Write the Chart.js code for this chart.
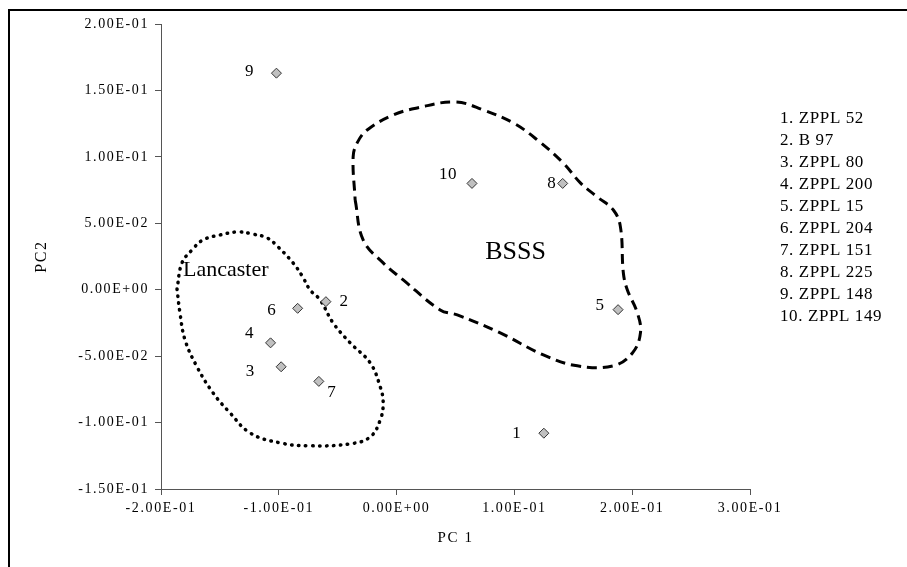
<!DOCTYPE html>
<html>
<head>
<meta charset="utf-8">
<title>PCA PC1 x PC2</title>
<script src="https://cdn.jsdelivr.net/npm/chart.js@4.4.1/dist/chart.umd.min.js"></script>
<style>
  html, body { margin: 0; padding: 0; background: #fff; overflow: hidden; }
  #wrap { position: relative; width: 907px; height: 567px; }
  #frame {
    position: absolute; left: 8px; top: 9px; right: -10px; bottom: -10px;
    border-left: 2px solid #000; border-top: 2px solid #000; pointer-events: none;
  }
</style>
</head>
<body>
<div id="wrap">
  <canvas id="pcaChart" width="907" height="567"></canvas>
  <div id="frame"></div>
</div>
<script>
// ── Dados: linhagens (PC1, PC2) ───────────────────────────────────────────────
const linhagens = ["1", "2", "3", "4", "5", "6", "7", "8", "9", "10"];
const nomes = ["ZPPL 52", "B 97", "ZPPL 80", "ZPPL 200", "ZPPL 15",
               "ZPPL 204", "ZPPL 151", "ZPPL 225", "ZPPL 148", "ZPPL 149"];
const pc1 = [0.125, -0.060, -0.098, -0.107, 0.188, -0.084, -0.066, 0.141, -0.102, 0.064];
const pc2 = [-0.108, -0.009, -0.058, -0.040, -0.015, -0.014, -0.069, 0.080, 0.163, 0.080];

// contorno do grupo Lancaster (pontilhado)
const lancX = [-0.1864, -0.1839, -0.1796, -0.1694, -0.1558, -0.1414, -0.1244, -0.0989,
               -0.0734, -0.0394, -0.0224, -0.0139, -0.0114, -0.0139, -0.0224, -0.0394,
               -0.0539, -0.0649, -0.0734, -0.0802, -0.0879, -0.1006, -0.1099, -0.1218,
               -0.1346, -0.1499, -0.1643, -0.1737, -0.1822, -0.1864];
const lancY = [0.0006, -0.0175, -0.0378, -0.0581, -0.0777, -0.0927, -0.1078, -0.1153,
               -0.1175, -0.1160, -0.1108, -0.0980, -0.0852, -0.0731, -0.0551, -0.0400,
               -0.0250, -0.0077, -0.0002, 0.0104, 0.0202, 0.0322, 0.0390, 0.0418,
               0.0435, 0.0412, 0.0375, 0.0299, 0.0202, 0.0006];

// contorno do grupo BSSS (tracejado)
const bsssX = [-0.0352, -0.0284, -0.0114, 0.0056, 0.0370, 0.0515, 0.0880, 0.1246,
               0.1534, 0.1840, 0.2002, 0.2070, 0.2044, 0.1959, 0.1925, 0.1900,
               0.1840, 0.1704, 0.1560, 0.1415, 0.1195, 0.0991, 0.0736, 0.0498,
               0.0175, -0.0029, -0.0250, -0.0335, -0.0369, -0.0352];
const bsssY = [0.0676, 0.0375, 0.0202, 0.0074, -0.0152, -0.0190, -0.0325, -0.0491,
               -0.0573, -0.0573, -0.0476, -0.0325, -0.0175, -0.0002, 0.0126, 0.0473,
               0.0600, 0.0698, 0.0804, 0.0954, 0.1127, 0.1255, 0.1353, 0.1413,
               0.1368, 0.1315, 0.1202, 0.1105, 0.0999, 0.0676];

// nomes dos grupos e onde ficam (unidades dos eixos)
const grupos = ["Lancaster", "BSSS"];
const grupoX = [-0.145, 0.101];
const grupoY = [0.015, 0.028];

// ── Estilo dos rótulos dos pontos (deslocamento em px) ────────────────────────
const rotuloDx = [-27, 18, -31, -21, -18, -26, 13, -11, -27, -24];
const rotuloDy = [0, 0, 5, -9, -4, 2, 11, 0, -2, -9];

const serif = "'Liberation Serif', 'Times New Roman', serif";

function sci(v) {
  if (Math.abs(v) < 1e-12) v = 0;
  const [m, e] = v.toExponential(2).split("e");
  const n = parseInt(e, 10);
  return m + "E" + (n < 0 ? "-" : "+") + String(Math.abs(n)).padStart(2, "0");
}

const pontos = pc1.map((x, i) => ({ x, y: pc2[i] }));
const lancaster = lancX.map((x, i) => ({ x, y: lancY[i] }));
const bsss = bsssX.map((x, i) => ({ x, y: bsssY[i] }));

// ── Plugin: textos (rótulos, grupos, lista à direita) ─────────────────────────
const textos = {
  id: "textos",
  beforeDraw(chart) {
    chart.ctx.letterSpacing = "1.6px";
  },
  afterDatasetsDraw(chart) {
    const { ctx, scales: { x, y } } = chart;
    ctx.save();
    ctx.fillStyle = "#000";
    ctx.textAlign = "center";
    ctx.textBaseline = "middle";

    ctx.letterSpacing = "0.5px";
    ctx.font = "17px " + serif;
    linhagens.forEach((lab, i) => {
      ctx.fillText(lab, x.getPixelForValue(pc1[i]) + rotuloDx[i],
                        y.getPixelForValue(pc2[i]) + rotuloDy[i]);
    });

    ctx.letterSpacing = "0px";
    ctx.font = "22px " + serif;
    ctx.fillText(grupos[0], x.getPixelForValue(grupoX[0]), y.getPixelForValue(grupoY[0]));
    ctx.font = "26px " + serif;
    ctx.fillText(grupos[1], x.getPixelForValue(grupoX[1]), y.getPixelForValue(grupoY[1]));

    // lista das linhagens
    ctx.letterSpacing = "0.6px";
    ctx.font = "17px " + serif;
    ctx.textAlign = "left";
    linhagens.forEach((lab, i) => {
      ctx.fillText(lab + ". " + nomes[i], 780, 119 + i * 22);
    });
    ctx.restore();
  }
};

// ── Gráfico ───────────────────────────────────────────────────────────────────
new Chart(document.getElementById("pcaChart"), {
  type: "scatter",
  data: {
    datasets: [
      {
        label: "Linhagens",
        data: pontos,
        pointStyle: "rectRot",
        pointRadius: 5,
        backgroundColor: "#c0c0c0",
        borderColor: "#333",
        borderWidth: 1,
        order: 0
      },
      {
        label: "Lancaster",
        data: lancaster,
        showLine: true,
        tension: 0.4,
        pointRadius: 0,
        borderColor: "#000",
        borderWidth: 3.5,
        borderDash: [0.5, 6.5],
        borderCapStyle: "round",
        order: 1
      },
      {
        label: "BSSS",
        data: bsss,
        showLine: true,
        tension: 0.4,
        pointRadius: 0,
        borderColor: "#000",
        borderWidth: 3,
        borderDash: [10, 6],
        order: 2
      }
    ]
  },
  options: {
    responsive: false,
    animation: false,
    events: [],
    layout: { padding: { left: 10, top: 24, right: 157, bottom: 0 } },
    plugins: { legend: { display: false }, tooltip: { enabled: false } },
    scales: {
      x: {
        type: "linear",
        min: -0.2,
        max: 0.3,
        afterFit: s => { s.height = 78; },
        border: { color: "#555", width: 1 },
        grid: { drawOnChartArea: false, tickLength: 6, color: "#555" },
        ticks: { stepSize: 0.1, padding: 5, color: "#000", font: { family: serif, size: 14 }, callback: sci },
        title: { display: true, text: "PC 1", color: "#000", font: { family: serif, size: 15 }, padding: { bottom: 20 } }
      },
      y: {
        type: "linear",
        min: -0.15,
        max: 0.2,
        afterFit: s => { s.width = 151; },
        border: { color: "#555", width: 1 },
        grid: { drawOnChartArea: false, tickLength: 6, color: "#555" },
        ticks: { stepSize: 0.05, padding: 6, color: "#000", font: { family: serif, size: 14 }, callback: sci },
        title: { display: true, text: "PC2", color: "#000", font: { family: serif, size: 16 }, padding: { top: 22 } }
      }
    }
  },
  plugins: [textos]
});
</script>
</body>
</html>
